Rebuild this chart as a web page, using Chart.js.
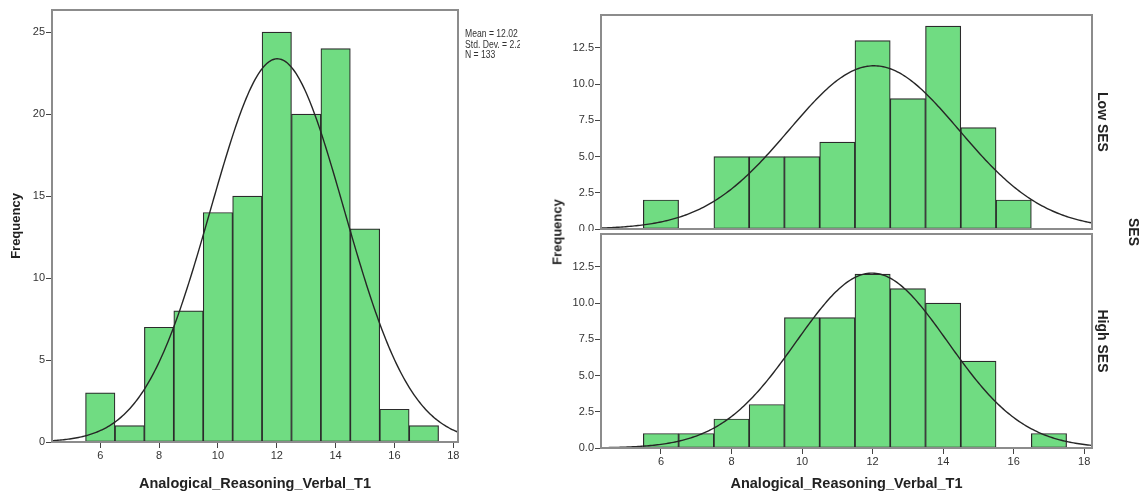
<!DOCTYPE html>
<html>
<head>
<meta charset="utf-8">
<script src="https://cdn.jsdelivr.net/npm/chart.js@4.4.0/dist/chart.umd.min.js"></script>
<style>
  html, body { margin: 0; padding: 0; background: #fff; }
  body { width: 1145px; height: 496px; position: relative; overflow: hidden; font-family: "Liberation Sans", Arial, sans-serif; }
  canvas { position: absolute; }
  .stats { position: absolute; left: 465px; top: 29px; width: 64px; overflow: hidden; white-space: nowrap; font-size: 10px; line-height: 10.5px; color: #333; transform: scaleX(0.86); transform-origin: left top; }
  .vlabel { position: absolute; font-weight: bold; font-size: 14px; color: #222; white-space: nowrap; }
</style>
</head>
<body>
<canvas id="histAll" width="540" height="496" style="left:0;top:0"></canvas>
<canvas id="histLow" width="605" height="231" style="left:540px;top:0"></canvas>
<canvas id="histHigh" width="605" height="265" style="left:540px;top:231px"></canvas>

<div class="stats">Mean = 12.02<br>Std. Dev. = 2.27<br>N = 133</div>
<div class="vlabel" style="left:557px;top:232px;font-size:13px;transform:translate(-50%,-50%) rotate(-90deg)">Frequency</div>
<div class="vlabel" style="left:1103px;top:122px;transform:translate(-50%,-50%) rotate(90deg)">Low SES</div>
<div class="vlabel" style="left:1103px;top:341px;transform:translate(-50%,-50%) rotate(90deg)">High SES</div>
<div class="vlabel" style="left:1134px;top:232px;transform:translate(-50%,-50%) rotate(90deg)">SES</div>

<script>
// score bins (width 1, centred on the integer)
const bins = [6, 7, 8, 9, 10, 11, 12, 13, 14, 15, 16, 17];
const allCounts = [3, 1, 7, 8, 14, 15, 25, 20, 24, 13, 2, 1];
const lowCounts = [2, 0, 5, 5, 5, 6, 13, 9, 14, 7, 2, 0];
const highCounts = [1, 1, 2, 3, 9, 9, 12, 11, 10, 6, 0, 1];

const xTicks = [6, 8, 10, 12, 14, 16, 18];
const allYTicks = [0, 5, 10, 15, 20, 25];
const sesYTicks = [0, 2.5, 5, 7.5, 10, 12.5];

// normal fit: mean, sd, n
const allFit = [12.02, 2.27, 133];
const lowFit = [12.04, 2.41, 68];
const highFit = [11.98, 2.15, 65];

const GREEN = '#70dc82';
const INK = '#333';
const FONT = '"Liberation Sans", Arial, sans-serif';

Chart.defaults.font.family = FONT;

// normal density scaled to counts per bin
function normalCurve(fit, xMin, xMax) {
    const [mean, sd, n] = fit;
    const pts = [];
    for (let x = xMin; x <= xMax + 1e-9; x += 0.05) {
        const z = (x - mean) / sd;
        pts.push({ x: x, y: n * Math.exp(-0.5 * z * z) / (sd * Math.sqrt(2 * Math.PI)) });
    }
    return pts;
}

const framePlugin = {
    id: 'frame',
    afterDatasetsDraw(chart) {
        const { ctx, chartArea: a } = chart;
        ctx.save();
        ctx.strokeStyle = '#8c8c8c';
        ctx.lineWidth = 2;
        ctx.strokeRect(a.left, a.top, a.right - a.left, a.bottom - a.top);
        ctx.restore();
    }
};

function histogram(id, o) {
    const tickGrid = { display: true, offset: false, drawOnChartArea: false, drawTicks: true, tickLength: 6, color: '#444', lineWidth: 1 };
    return new Chart(document.getElementById(id), {
        type: 'bar',
        data: {
            datasets: [
                { type: 'line', data: normalCurve(o.fit, o.xMin, o.xMax), borderColor: '#262626', borderWidth: 1.4, pointRadius: 0, tension: 0, order: 0 },
                { type: 'bar', data: bins.map((b, i) => ({ x: b, y: o.counts[i] })), backgroundColor: GREEN, borderColor: '#2b2b2b', borderWidth: 1.2, borderSkipped: false, barPercentage: 1, categoryPercentage: 1, order: 1 }
            ]
        },
        options: {
            responsive: false,
            animation: false,
            devicePixelRatio: 1,
            layout: { padding: o.padding },
            plugins: { legend: { display: false }, tooltip: { enabled: false } },
            scales: {
                x: {
                    type: 'linear', min: o.xMin, max: o.xMax, offset: false,
                    display: o.showX,
                    grid: tickGrid, border: { display: false },
                    afterBuildTicks: s => { s.ticks = xTicks.map(v => ({ value: v })); },
                    afterFit: s => { s.height = o.xHeight; s.paddingLeft = 0; s.paddingRight = 0; },
                    ticks: { font: { size: 11 }, color: INK, padding: 1 },
                    title: { display: o.showX, text: 'Analogical_Reasoning_Verbal_T1', font: { size: 14.5, weight: 'bold' }, color: '#222', padding: { top: 0, bottom: 3 } }
                },
                y: {
                    min: 0, max: o.yMax,
                    grid: tickGrid, border: { display: false },
                    afterBuildTicks: s => { s.ticks = o.yTicks.map(v => ({ value: v })); },
                    afterFit: s => { s.width = o.yWidth; s.paddingTop = 0; s.paddingBottom = 0; },
                    ticks: { font: { size: 11 }, color: INK, padding: 1, callback: o.fmt },
                    title: { display: !!o.yTitle, text: o.yTitle, font: { size: 13, weight: 'bold' }, color: '#222', padding: { top: 9, bottom: 0 } }
                }
            }
        },
        plugins: [framePlugin]
    });
}

histogram('histAll', {
    counts: allCounts, fit: allFit, xMin: 4.36, xMax: 18.16, yMax: 26.35, yTicks: allYTicks,
    fmt: v => String(v), yTitle: 'Frequency', showX: true,
    padding: { left: 0, top: 10, right: 82, bottom: 0 }, yWidth: 52, xHeight: 54
});

histogram('histLow', {
    counts: lowCounts, fit: lowFit, xMin: 4.3, xMax: 18.22, yMax: 14.76, yTicks: sesYTicks,
    fmt: v => v.toFixed(1), yTitle: '', showX: false,
    padding: { left: 0, top: 15, right: 53, bottom: 2 }, yWidth: 61, xHeight: 0
});

histogram('histHigh', {
    counts: highCounts, fit: highFit, xMin: 4.3, xMax: 18.22, yMax: 14.76, yTicks: sesYTicks,
    fmt: v => v.toFixed(1), yTitle: '', showX: true,
    padding: { left: 0, top: 3, right: 53, bottom: 0 }, yWidth: 61, xHeight: 48
});
</script>
</body>
</html>
